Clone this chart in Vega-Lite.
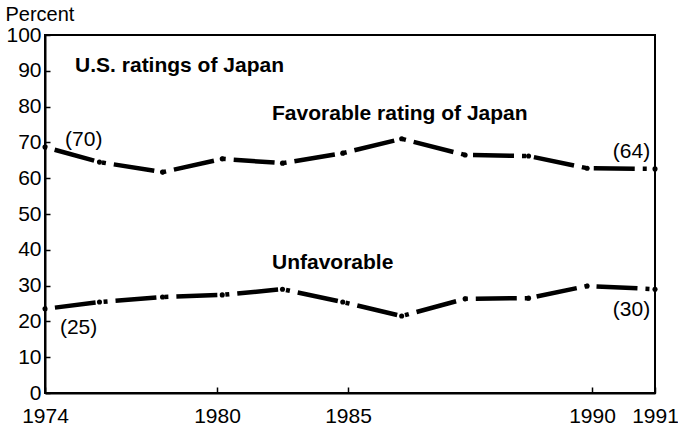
{
  "$schema": "https://vega.github.io/schema/vega-lite/v6.json",
  "width": 610,
  "height": 358,
  "autosize": {"type": "none"},
  "padding": {"left": 45, "top": 35, "right": 23, "bottom": 34},
  "background": "white",
  "config": {
    "view": {"stroke": "black", "strokeWidth": 2},
    "font": "Liberation Sans",
    "axis": {"grid": false, "domainColor": "black", "domainWidth": 2, "tickColor": "black", "tickWidth": 1.5, "labelColor": "black", "labelFont": "Liberation Sans", "labelFontSize": 21, "zindex": 1}
  },
  "datasets": {
    "ratings": [
      {"year": 1974, "value": 68.7, "series": "Favorable"},
      {"year": 1975.9, "value": 64.5, "series": "Favorable"},
      {"year": 1978.1, "value": 61.7, "series": "Favorable"},
      {"year": 1980.2, "value": 65.4, "series": "Favorable"},
      {"year": 1982.5, "value": 64.2, "series": "Favorable"},
      {"year": 1984.8, "value": 67.0, "series": "Favorable"},
      {"year": 1986.1, "value": 71.0, "series": "Favorable"},
      {"year": 1987.4, "value": 66.5, "series": "Favorable"},
      {"year": 1988.7, "value": 66.2, "series": "Favorable"},
      {"year": 1989.9, "value": 62.8, "series": "Favorable"},
      {"year": 1991, "value": 62.6, "series": "Favorable"},
      {"year": 1974, "value": 23.5, "series": "Unfavorable"},
      {"year": 1975.9, "value": 25.4, "series": "Unfavorable"},
      {"year": 1978.1, "value": 26.8, "series": "Unfavorable"},
      {"year": 1980.2, "value": 27.4, "series": "Unfavorable"},
      {"year": 1982.5, "value": 29.0, "series": "Unfavorable"},
      {"year": 1984.8, "value": 25.4, "series": "Unfavorable"},
      {"year": 1986.1, "value": 21.5, "series": "Unfavorable"},
      {"year": 1987.4, "value": 26.3, "series": "Unfavorable"},
      {"year": 1988.7, "value": 26.5, "series": "Unfavorable"},
      {"year": 1989.9, "value": 29.9, "series": "Unfavorable"},
      {"year": 1991, "value": 29.0, "series": "Unfavorable"}
    ],
    "titles": [
      {"label": "U.S. ratings of Japan", "year": 1975.05, "value": 89.7},
      {"label": "Favorable rating of Japan", "year": 1982.1, "value": 76.3},
      {"label": "Unfavorable", "year": 1982.1, "value": 34.6}
    ],
    "endLabels": [
      {"label": "(70)", "year": 1974.7, "value": 70.7},
      {"label": "(64)", "year": 1990.33, "value": 67.3},
      {"label": "(25)", "year": 1974.52, "value": 18.2},
      {"label": "(30)", "year": 1990.33, "value": 23.2}
    ]
  },
  "encoding": {
    "x": {
      "field": "year", "type": "quantitative",
      "scale": {"domain": [1974, 1980, 1985, 1990, 1991], "range": [0, 172, 303, 547, 610], "nice": false, "zero": false},
      "axis": {"values": [1974, 1980, 1985, 1990, 1991], "format": "d", "title": null, "tickSize": -6, "labelPadding": 18, "labelFlush": false}
    },
    "y": {
      "field": "value", "type": "quantitative",
      "scale": {"domain": [0, 100], "nice": false},
      "axis": {"values": [0, 10, 20, 30, 40, 50, 60, 70, 80, 90, 100], "title": "Percent", "tickSize": -5, "labelPadding": 9, "titleAngle": 0, "titleX": -40, "titleY": -15, "titleAlign": "left", "titleBaseline": "alphabetic", "titleFontWeight": "normal", "titleFontSize": 20, "titleFont": "Liberation Sans", "titleColor": "black"}
    }
  },
  "layer": [
    {
      "data": {"name": "ratings"},
      "mark": {"type": "line", "color": "black", "strokeWidth": 4.5, "strokeCap": "butt", "strokeDash": [4, 8, 41, 8], "strokeDashOffset": 2},
      "encoding": {"detail": {"field": "series"}}
    },
    {
      "data": {"name": "ratings"},
      "mark": {"type": "circle", "opacity": 1},
      "encoding": {"size": {"value": 26}, "color": {"value": "black"}}
    },
    {
      "data": {"name": "titles"},
      "mark": {"type": "text", "align": "left", "baseline": "alphabetic", "fontWeight": "bold", "fontSize": 21, "font": "Liberation Sans", "color": "black"},
      "encoding": {"text": {"field": "label"}}
    },
    {
      "data": {"name": "endLabels"},
      "mark": {"type": "text", "align": "left", "baseline": "middle", "fontSize": 21, "font": "Liberation Sans", "color": "black"},
      "encoding": {"text": {"field": "label"}}
    },
    {
      "data": {"values": [{}]},
      "mark": {"type": "rule", "color": "black", "strokeWidth": 2},
      "encoding": {"x": {"datum": 1991}, "y": {"datum": 0}, "y2": {"datum": 100}}
    }
  ]
}
